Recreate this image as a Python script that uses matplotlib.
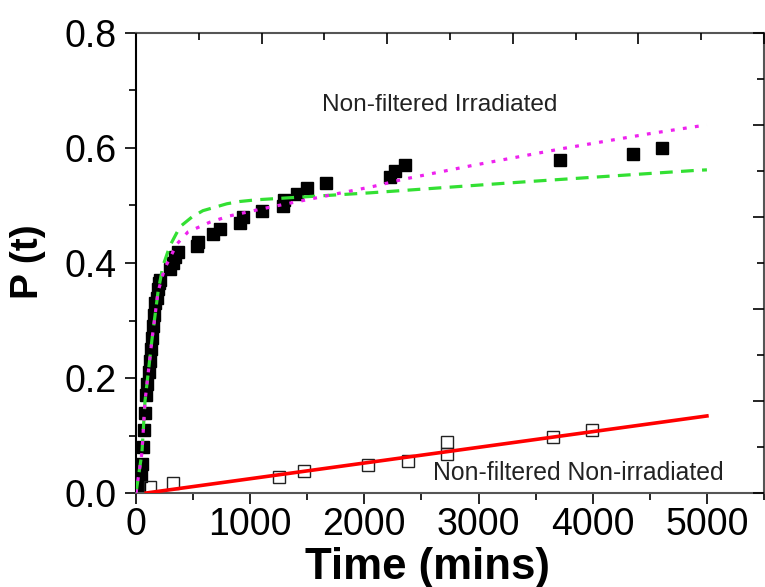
import matplotlib
matplotlib.use("Agg")
import matplotlib.pyplot as plt
from matplotlib.ticker import MultipleLocator, NullFormatter

plt.rcParams['font.family'] = ['Liberation Sans', 'DejaVu Sans']

# Irradiated (filled squares)
irr_t = [20, 30, 40, 50, 60, 70, 80, 90, 100, 110, 120, 130, 140, 150, 160, 170, 180, 190, 200, 210,
         300, 320, 340, 370, 530, 540, 675, 735, 910, 940, 1100, 1290, 1300, 1410, 1500, 1660,
         2222, 2266, 2353, 3710, 4357, 4611]
irr_p = [0.0, 0.01, 0.03, 0.05, 0.08, 0.11, 0.14, 0.17, 0.19, 0.21, 0.23, 0.25, 0.27, 0.29, 0.31, 0.33, 0.34, 0.355, 0.365, 0.37,
         0.39, 0.40, 0.41, 0.42, 0.43, 0.437, 0.45, 0.46, 0.47, 0.48, 0.49, 0.50, 0.51, 0.52, 0.53, 0.54,
         0.55, 0.56, 0.57, 0.58, 0.59, 0.60]

# Non-irradiated (open squares)
non_t = [125, 328, 1250, 1471, 2028, 2385, 2725, 2725, 3650, 3993]
non_p = [0.011, 0.018, 0.028, 0.039, 0.048, 0.056, 0.068, 0.089, 0.098, 0.109]

# Fit curves
green_t = [0, 52, 79, 140, 193, 236, 271, 297, 385, 490, 586, 796, 910, 1060, 2047, 3465, 4900, 5000]
green_p = [0.0, 0.07, 0.16, 0.267, 0.35, 0.395, 0.415, 0.43, 0.463, 0.48, 0.491, 0.503, 0.507, 0.51, 0.522, 0.542, 0.561, 0.562]

mag_t = [0, 52, 79, 140, 193, 250, 300, 358, 455, 647, 822, 1100, 1320, 2075, 2327, 2930, 3735, 4500, 4960, 5000]
mag_p = [0.0, 0.07, 0.16, 0.267, 0.35, 0.39, 0.41, 0.433, 0.454, 0.471, 0.482, 0.494, 0.503, 0.533, 0.545, 0.569, 0.599, 0.625, 0.639, 0.64]

red_t = [90, 5000]
red_p = [0.0, 0.134]

fig = plt.figure(figsize=(7.65, 5.87), dpi=100)
ax = fig.add_axes([136/765, 1-493/587, (764-136)/765, (493-33)/587])

ax.plot(irr_t, irr_p, 's', color='black', markersize=8.5, markeredgecolor='black', zorder=2)
ax.plot(non_t, non_p, 's', markerfacecolor='none', markeredgecolor='#222222', markersize=8.5, markeredgewidth=1.0, zorder=2)
ax.plot(red_t, red_p, '-', color='#ff0000', lw=2.6, zorder=3)
ax.plot(green_t, green_p, '--', color='#33e033', lw=2.3, dashes=(4, 2.6), zorder=4)
ax.plot(mag_t, mag_p, ':', color='#ee22ee', lw=2.3, dashes=(1.2, 2.6), zorder=5)

ax.set_xlim(0, 5500)
ax.set_ylim(0, 0.8)
ax.xaxis.set_minor_locator(MultipleLocator(500))
ax.yaxis.set_minor_locator(MultipleLocator(0.1))
ax.set_xticks([0, 1000, 2000, 3000, 4000, 5000])
ax.set_yticks([0, 0.2, 0.4, 0.6, 0.8])
ax.set_yticklabels(['0.0', '0.2', '0.4', '0.6', '0.8'])
ax.tick_params(axis='both', which='major', direction='out', length=8, width=1.2, labelsize=27)
ax.tick_params(axis='x', which='major', pad=2)
ax.tick_params(axis='y', which='major', pad=6)
ax.tick_params(axis='both', which='minor', direction='out', length=5, width=1.2)
ax.tick_params(axis='y', which='both', right=False)
ax.tick_params(axis='x', which='both', top=False)

ax.spines['left'].set_color('black')
ax.spines['left'].set_linewidth(1.5)
for s in ['bottom', 'top', 'right']:
    ax.spines[s].set_color('#555555')
    ax.spines[s].set_linewidth(1.5)

# top axis ticks (inward)
axt = ax.twiny()
axt.set_xlim(0, 5)
axt.xaxis.set_major_locator(MultipleLocator(1))
axt.xaxis.set_minor_locator(MultipleLocator(0.5))
axt.xaxis.set_major_formatter(NullFormatter())
axt.tick_params(axis='x', which='major', direction='in', length=8, width=1.2, top=True, bottom=False)
axt.tick_params(axis='x', which='minor', direction='in', length=5, width=1.2, top=True, bottom=False)
axt.tick_params(axis='y', left=False, right=False, labelleft=False)
for s in axt.spines.values():
    s.set_visible(False)

# right axis ticks (inward)
axr = ax.twinx()
axr.set_ylim(0, 1.0)
axr.yaxis.set_major_locator(MultipleLocator(0.2))
axr.yaxis.set_minor_locator(MultipleLocator(0.1))
axr.yaxis.set_major_formatter(NullFormatter())
axr.tick_params(axis='y', which='major', direction='in', length=8, width=1.2, right=True, left=False)
axr.tick_params(axis='y', which='minor', direction='in', length=5, width=1.2, right=True, left=False)
for s in axr.spines.values():
    s.set_visible(False)

ax.set_xlabel('Time (mins)', fontsize=31.5, fontweight='bold')
ax.xaxis.set_label_coords((427-136)/628, -(547-493)/460, transform=ax.transAxes)
ax.xaxis.label.set_va('top')
ax.set_ylabel('P (t)', fontsize=28, fontweight='bold')
ax.yaxis.label.set_rotation_mode('default')
ax.yaxis.label.set_va('center')
ax.yaxis.label.set_ha('center')
ax.yaxis.set_label_coords(-(136-28)/628, (493-262)/460, transform=ax.transAxes)

ax.text(1627, 0.675, 'Non-filtered Irradiated', fontsize=17.6, ha='left', va='center', color='#222222')
ax.text(2598, 0.035, 'Non-filtered Non-irradiated', fontsize=17.8, ha='left', va='center', color='#222222')

fig.savefig('out.png', dpi=100)
